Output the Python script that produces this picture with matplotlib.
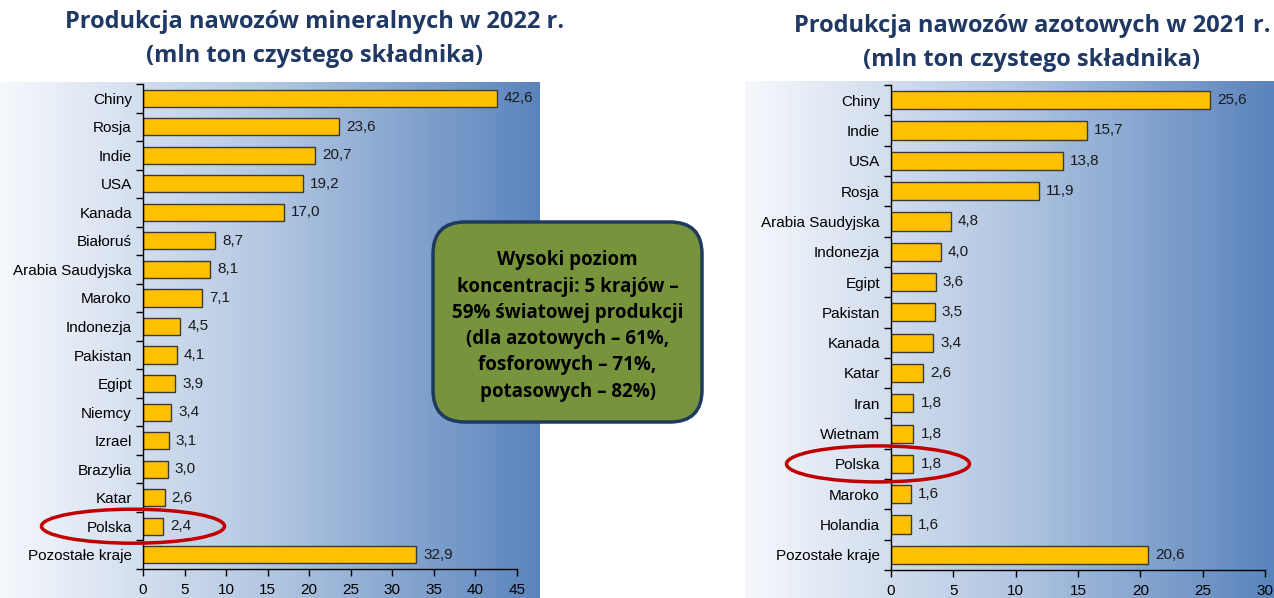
import numpy as np
import matplotlib
matplotlib.use("Agg")
import matplotlib.pyplot as plt
from matplotlib.patches import Ellipse, FancyBboxPatch
from matplotlib.colors import LinearSegmentedColormap

# ---------------- data ----------------
left_categories = ["Chiny", "Rosja", "Indie", "USA", "Kanada", "Białoruś",
                   "Arabia Saudyjska", "Maroko", "Indonezja", "Pakistan",
                   "Egipt", "Niemcy", "Izrael", "Brazylia", "Katar", "Polska",
                   "Pozostałe kraje"]
left_values = [42.6, 23.6, 20.7, 19.2, 17.0, 8.7, 8.1, 7.1, 4.5, 4.1, 3.9,
               3.4, 3.1, 3.0, 2.6, 2.4, 32.9]
left_ticks = [0, 5, 10, 15, 20, 25, 30, 35, 40, 45]

right_categories = ["Chiny", "Indie", "USA", "Rosja", "Arabia Saudyjska",
                    "Indonezja", "Egipt", "Pakistan", "Kanada", "Katar",
                    "Iran", "Wietnam", "Polska", "Maroko", "Holandia",
                    "Pozostałe kraje"]
right_values = [25.6, 15.7, 13.8, 11.9, 4.8, 4.0, 3.6, 3.5, 3.4, 2.6, 1.8,
                1.8, 1.8, 1.6, 1.6, 20.6]
right_ticks = [0, 5, 10, 15, 20, 25, 30]

left_title = "Produkcja nawozów mineralnych w 2022 r.\n(mln ton czystego składnika)"
right_title = "Produkcja nawozów azotowych w 2021 r.\n(mln ton czystego składnika)"
box_text = ("Wysoki poziom\nkoncentracji: 5 krajów –\n59% światowej produkcji\n"
            "(dla azotowych – 61%,\nfosforowych – 71%,\npotasowych – 82%)")
highlight = "Polska"

# ---------------- style ----------------
W, H, DPI = 1274, 598, 100
fig = plt.figure(figsize=(W / DPI, H / DPI), dpi=DPI)
fig.patch.set_facecolor("white")

grad_cmap = LinearSegmentedColormap.from_list(
    "bg", ["#f6f8fc", "#b3c7e2", "#5a84bd"])
gradient = np.linspace(0, 1, 256).reshape(1, -1)

BAR = "#FFC000"
TITLE_C = "#1f3864"
LABEL_FONT = ["Liberation Sans", "DejaVu Sans"]
TITLE_FONT = ["Open Sans", "DejaVu Sans"]
FS = 11


def px_rect(x0, y0, x1, y1):
    """pixel box (top-left origin) -> figure fraction rect"""
    return [x0 / W, 1 - y1 / H, (x1 - x0) / W, (y1 - y0) / H]


def background(x0, y0, x1, y1):
    bg = fig.add_axes(px_rect(x0, y0, x1, y1), zorder=0)
    bg.imshow(gradient, aspect="auto", cmap=grad_cmap, extent=[0, 1, 0, 1])
    bg.set_axis_off()


def chart(rect, cats, vals, ticks):
    ax = fig.add_axes(rect, zorder=2)
    ax.set_facecolor("none")
    y = np.arange(len(cats))
    ax.barh(y, vals, height=0.6, color=BAR, edgecolor="#3a3a3a", linewidth=1.0)
    ax.set_ylim(len(cats) - 0.5, -0.5)
    ax.set_xlim(ticks[0], ticks[-1])
    ax.set_xticks(ticks)
    ax.set_yticks(y)
    ax.set_yticklabels(cats, fontfamily=LABEL_FONT, fontsize=FS)
    ax.set_yticks(np.arange(len(cats) + 1) - 0.5, minor=True)
    ax.tick_params(axis="y", which="major", length=0, pad=8)
    ax.tick_params(axis="y", which="minor", length=5, width=1, color="black")
    ax.tick_params(axis="x", length=5, width=1, pad=5, labelsize=FS)
    for lab in ax.get_xticklabels():
        lab.set_fontfamily(LABEL_FONT)
    for s in ["top", "right"]:
        ax.spines[s].set_visible(False)
    for s in ["left", "bottom"]:
        ax.spines[s].set_color("black")
        ax.spines[s].set_linewidth(1.0)
    for yi, v in zip(y, vals):
        ax.annotate(f"{v:.1f}".replace(".", ","), (v, yi), xytext=(5, 0),
                    textcoords="offset points", va="center", ha="left",
                    fontsize=FS, fontfamily=LABEL_FONT, color="#1a1a1a")
    return ax


# backgrounds
background(0, 82, 540, 598)
background(745, 81, 1274, 598)

# charts
axL = chart(px_rect(143, 84, 517, 569), left_categories, left_values, left_ticks)
axR = chart(px_rect(891, 85, 1265, 570), right_categories, right_values, right_ticks)

# titles
fig.text(315 / W, 1 - 39 / H, left_title, ha="center", va="center",
         fontsize=17, fontweight="bold", color=TITLE_C, fontfamily=TITLE_FONT,
         linespacing=1.5)
fig.text(1032 / W, 1 - 43 / H, right_title, ha="center", va="center",
         fontsize=17, fontweight="bold", color=TITLE_C, fontfamily=TITLE_FONT,
         linespacing=1.6)

# green box
box = FancyBboxPatch((4.33, 1.76), 2.69, 2.0,
                     boxstyle="round,pad=0,rounding_size=0.32",
                     transform=fig.dpi_scale_trans, facecolor="#77933c",
                     edgecolor="#1f3a5f", linewidth=2.5, zorder=5)
fig.add_artist(box)
fig.text(5.675 / (W / DPI), 1 - 326 / H, box_text, ha="center",
         va="center", fontsize=13.5, fontweight="bold", color="black",
         fontfamily=TITLE_FONT, linespacing=1.42, zorder=6)


# red ellipses around highlighted rows
def circle_row(ax, cats, cx_px, w_px, h_px):
    idx = cats.index(highlight)
    _, ypix = ax.transData.transform((0, idx))
    e = Ellipse((cx_px / DPI, ypix / DPI), w_px / DPI, h_px / DPI,
                transform=fig.dpi_scale_trans, fill=False,
                edgecolor="#c00000", linewidth=2.5, zorder=7)
    fig.add_artist(e)


fig.canvas.draw()
circle_row(axL, left_categories, 133, 183, 34)
circle_row(axR, right_categories, 878, 183, 36)

fig.savefig("out.png", dpi=DPI)
